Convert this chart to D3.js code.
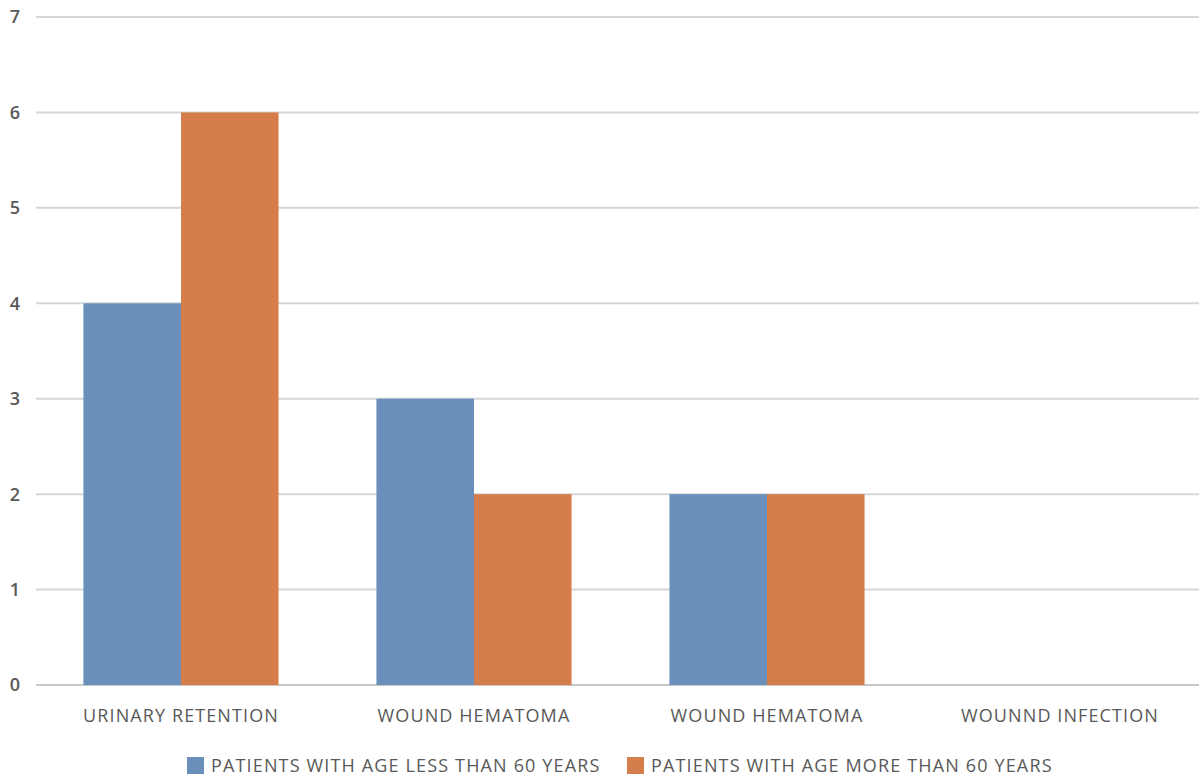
<!DOCTYPE html>
<html>
<head>
<meta charset="utf-8">
<script src="https://cdn.jsdelivr.net/npm/d3@7"></script>
<style>
  html, body { margin: 0; padding: 0; background: #fff; }
  svg { display: block; }
  text { font-family: "Open Sans", sans-serif; fill: #595959; }
</style>
</head>
<body>
<svg id="chart" width="1199" height="776"></svg>
<script>
// Complication counts by age group
const categories = ["URINARY RETENTION", "WOUND HEMATOMA", "WOUND HEMATOMA ", "WOUNND INFECTION"];
const seriesNames = ["PATIENTS WITH AGE LESS THAN 60 YEARS", "PATIENTS WITH AGE MORE THAN 60 YEARS"];
const under60 = [4, 3, 2, 0];
const over60 = [6, 2, 2, 0];
const yTicks = [0, 1, 2, 3, 4, 5, 6, 7];
const colors = ["#6a8fbb", "#d67e4b"];

const svg = d3.select("#chart");
const plot = { left: 34.5, right: 1206.5, top: 17, bottom: 685 };

const x = d3.scaleBand().domain(categories).range([plot.left, plot.right]).padding(0);
const y = d3.scaleLinear().domain([0, 7]).range([plot.bottom, plot.top]);
const groupWidth = x.bandwidth() * 0.666;
const xs = d3.scaleBand().domain([0, 1]).range([0, groupWidth]).padding(0);

// gridlines
svg.append("g")
  .selectAll("line")
  .data(yTicks)
  .join("line")
  .attr("x1", 36).attr("x2", 1199)
  .attr("y1", d => y(d)).attr("y2", d => y(d))
  .attr("stroke", d => d === 0 ? "#c8c8c8" : "#d6d6d6")
  .attr("stroke-width", 2);

// y tick labels
svg.append("g")
  .selectAll("text")
  .data(yTicks)
  .join("text")
  .attr("x", 15).attr("y", d => y(d))
  .attr("dy", "0.36em")
  .attr("text-anchor", "middle")
  .attr("font-size", 18)
  .attr("font-weight", 600)
  .text(d => d);

// bars
const rows = categories.map((c, i) => ({ cat: c, vals: [under60[i], over60[i]] }));
const groups = svg.append("g")
  .selectAll("g")
  .data(rows)
  .join("g")
  .attr("transform", d => `translate(${x(d.cat) + (x.bandwidth() - groupWidth) / 2},0)`);

groups.selectAll("rect")
  .data(d => d.vals.map((v, k) => ({ v, k })))
  .join("rect")
  .attr("x", d => xs(d.k))
  .attr("width", xs.bandwidth())
  .attr("y", d => y(d.v))
  .attr("height", d => y(0) - y(d.v))
  .attr("fill", d => colors[d.k]);

// category labels
svg.append("g")
  .selectAll("text")
  .data(categories)
  .join("text")
  .attr("x", d => x(d) + x.bandwidth() / 2)
  .attr("y", 722)
  .attr("text-anchor", "middle")
  .attr("font-size", 18)
  .attr("letter-spacing", 1.1)
  .text(d => d.trim());

// legend
const legendX = [187, 627];
const legend = svg.append("g")
  .selectAll("g")
  .data(seriesNames)
  .join("g")
  .attr("transform", (d, i) => `translate(${legendX[i]},757)`);
legend.append("rect")
  .attr("width", 17).attr("height", 17)
  .attr("fill", (d, i) => colors[i]);
legend.append("text")
  .attr("x", 24).attr("y", 15)
  .attr("font-size", 18)
  .attr("letter-spacing", 1.15)
  .text(d => d);
</script>
</body>
</html>
